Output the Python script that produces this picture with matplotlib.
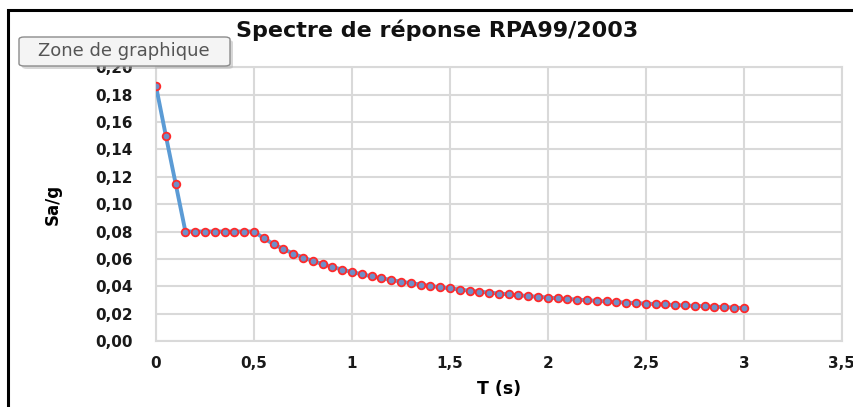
import matplotlib
matplotlib.use("Agg")
import matplotlib.pyplot as plt
from matplotlib.ticker import FuncFormatter, MultipleLocator
from matplotlib.patches import FancyBboxPatch, Rectangle

plt.rcParams['font.family'] = ['DejaVu Sans']

# Période T (s) et accélération spectrale Sa/g
periode = [0.00, 0.05, 0.10, 0.15, 0.20, 0.25, 0.30, 0.35, 0.40, 0.45,
           0.50, 0.55, 0.60, 0.65, 0.70, 0.75, 0.80, 0.85, 0.90, 0.95,
           1.00, 1.05, 1.10, 1.15, 1.20, 1.25, 1.30, 1.35, 1.40, 1.45,
           1.50, 1.55, 1.60, 1.65, 1.70, 1.75, 1.80, 1.85, 1.90, 1.95,
           2.00, 2.05, 2.10, 2.15, 2.20, 2.25, 2.30, 2.35, 2.40, 2.45,
           2.50, 2.55, 2.60, 2.65, 2.70, 2.75, 2.80, 2.85, 2.90, 2.95,
           3.00]
sa_g = [0.186, 0.150, 0.115, 0.080, 0.080, 0.080, 0.080, 0.080, 0.080, 0.080,
        0.080, 0.0751, 0.0708, 0.0672, 0.0639, 0.0610, 0.0585, 0.0562, 0.0541, 0.0522,
        0.0504, 0.0488, 0.0473, 0.0459, 0.0446, 0.0434, 0.0423, 0.0413, 0.0403, 0.0393,
        0.0385, 0.0376, 0.0368, 0.0361, 0.0354, 0.0347, 0.0341, 0.0334, 0.0329, 0.0323,
        0.0318, 0.0312, 0.0307, 0.0303, 0.0298, 0.0294, 0.0289, 0.0285, 0.0281, 0.0277,
        0.0274, 0.0270, 0.0267, 0.0263, 0.0260, 0.0257, 0.0254, 0.0251, 0.0248, 0.0245,
        0.0240]

titre = "Spectre de réponse RPA99/2003"

fig = plt.figure(figsize=(8.54, 4.07), dpi=100)
ax = fig.add_axes([0.1827, 0.162, 0.803, 0.673])

ax.plot(periode, sa_g, color='#5B9BD5', linewidth=2.8, marker='o',
        markersize=5.5, markerfacecolor='#6F8FC8', markeredgecolor='#FF2A2A',
        markeredgewidth=1.3, zorder=3)

ax.set_xlim(0, 3.5)
ax.set_ylim(0, 0.20)
ax.xaxis.set_major_locator(MultipleLocator(0.5))
ax.yaxis.set_major_locator(MultipleLocator(0.02))

def virgule_x(v, pos):
    s = f"{v:g}"
    return s.replace('.', ',')

def virgule_y(v, pos):
    return f"{v:.2f}".replace('.', ',')

ax.xaxis.set_major_formatter(FuncFormatter(virgule_x))
ax.yaxis.set_major_formatter(FuncFormatter(virgule_y))

ax.grid(True, color='#D9D9D9', linewidth=1.5)
ax.set_axisbelow(True)
for s in ax.spines.values():
    s.set_color('#D9D9D9')
    s.set_linewidth(1.5)
ax.tick_params(length=0, labelsize=11, colors='#1A1A1A')
ax.tick_params(axis='y', pad=17)
ax.tick_params(axis='x', pad=11)
for lab in ax.get_xticklabels() + ax.get_yticklabels():
    lab.set_fontweight('bold')

ax.set_xlabel("T (s)", fontsize=12.5, fontweight='bold', labelpad=6)
ax.set_ylabel("Sa/g", fontsize=12, fontweight='bold', labelpad=24)
fig.text(0.512, 0.925, titre, ha='center', va='center', fontsize=16,
         fontweight='bold', color='#111111')

# cadre noir de la zone de graphique
fig.add_artist(Rectangle((8 / 854, -0.05), 1.0, 1 - 10 / 407 + 0.05,
                         transform=fig.transFigure, fill=False,
                         edgecolor='black', linewidth=2.2))

# info-bulle
fig.add_artist(FancyBboxPatch((22 / 854, 1 - 69 / 407), 211 / 854, 29 / 407,
                              boxstyle='round,pad=0,rounding_size=0.006',
                              transform=fig.transFigure, facecolor='#B0B0B0',
                              edgecolor='none', alpha=0.5, zorder=4))
fig.add_artist(FancyBboxPatch((19 / 854, 1 - 66 / 407), 211 / 854, 29 / 407,
                              boxstyle='round,pad=0,rounding_size=0.006',
                              transform=fig.transFigure, facecolor='#F4F4F4',
                              edgecolor='#8C8C8C', linewidth=1.0, zorder=5))
fig.text(124 / 854, 1 - 51 / 407, "Zone de graphique", ha='center', va='center',
         fontsize=13, color='#555555', zorder=6)

fig.savefig("out.png", dpi=100)
